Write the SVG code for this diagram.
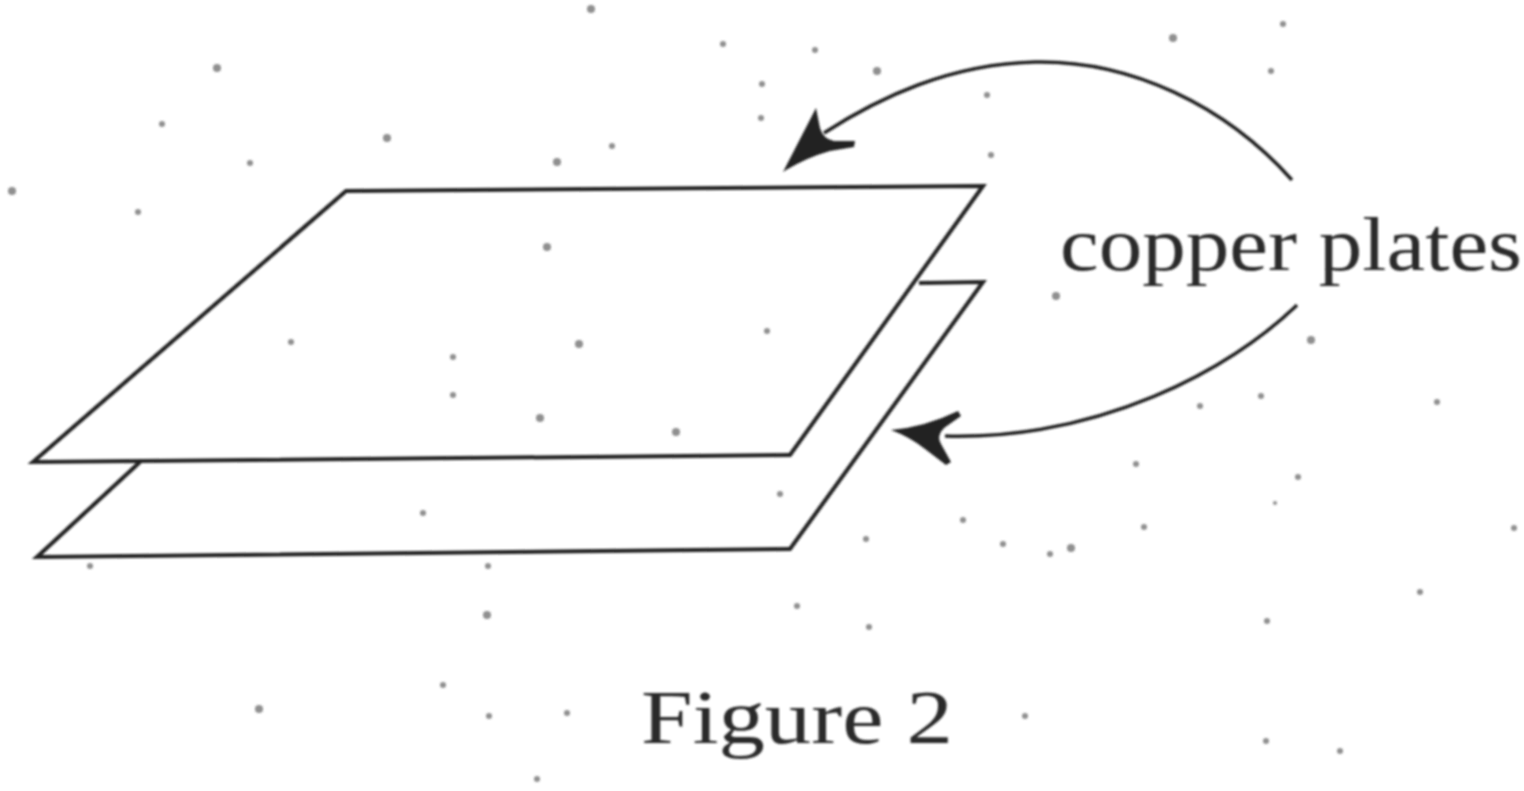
<svg xmlns="http://www.w3.org/2000/svg" width="1524" height="791" viewBox="0 0 1524 791">
<defs><filter id="b" x="-2%" y="-2%" width="104%" height="104%"><feGaussianBlur stdDeviation="0.9"/></filter></defs>
<style>
.l{fill:none;stroke:#222;stroke-width:4;stroke-linejoin:miter}
.c{fill:none;stroke:#222;stroke-width:3.5}
.t{font-family:"Liberation Serif",serif;fill:#2a2a2a;font-size:76px}
.h{fill:#222}
.d circle{fill:#444;opacity:.6}
</style>
<rect width="1524" height="791" fill="#fff"/>
<g filter="url(#b)">
<g class="d">
<circle cx="591" cy="9" r="4"/><circle cx="1173" cy="38" r="4"/><circle cx="217" cy="68" r="4"/><circle cx="723" cy="44" r="3"/><circle cx="815" cy="50" r="3"/><circle cx="877" cy="71" r="4"/><circle cx="1271" cy="71" r="3"/><circle cx="1283" cy="24" r="3"/><circle cx="987" cy="95" r="3"/><circle cx="762" cy="84" r="3"/><circle cx="761" cy="118" r="3"/><circle cx="162" cy="124" r="3"/><circle cx="387" cy="138" r="4"/><circle cx="250" cy="163" r="3"/><circle cx="557" cy="162" r="4"/><circle cx="612" cy="146" r="3"/><circle cx="991" cy="155" r="3"/><circle cx="12" cy="191" r="4"/><circle cx="138" cy="212" r="3"/><circle cx="547" cy="247" r="4"/><circle cx="1056" cy="296" r="4"/><circle cx="1311" cy="340" r="4"/><circle cx="291" cy="342" r="3"/><circle cx="767" cy="331" r="3"/><circle cx="579" cy="344" r="4"/><circle cx="453" cy="357" r="3"/><circle cx="453" cy="395" r="3"/><circle cx="1261" cy="396" r="3"/><circle cx="1200" cy="406" r="3"/><circle cx="1437" cy="402" r="3"/><circle cx="540" cy="418" r="4"/><circle cx="676" cy="432" r="4"/><circle cx="1136" cy="464" r="3"/><circle cx="1298" cy="477" r="3"/><circle cx="780" cy="494" r="3"/><circle cx="423" cy="513" r="3"/><circle cx="1275" cy="503" r="2"/><circle cx="963" cy="520" r="3"/><circle cx="1144" cy="527" r="3"/><circle cx="1514" cy="528" r="3"/><circle cx="866" cy="539" r="3"/><circle cx="1071" cy="548" r="4"/><circle cx="1050" cy="554" r="3"/><circle cx="1003" cy="544" r="3"/><circle cx="488" cy="566" r="3"/><circle cx="90" cy="566" r="3"/><circle cx="1420" cy="592" r="3"/><circle cx="797" cy="606" r="3"/><circle cx="487" cy="615" r="4"/><circle cx="869" cy="627" r="3"/><circle cx="1267" cy="621" r="3"/><circle cx="443" cy="685" r="3"/><circle cx="259" cy="709" r="4"/><circle cx="489" cy="716" r="3"/><circle cx="567" cy="713" r="3"/><circle cx="1025" cy="716" r="3"/><circle cx="1266" cy="741" r="3"/><circle cx="1340" cy="751" r="3"/><circle cx="537" cy="779" r="3"/>
</g>
<g id="lower-plate"><path class="l" d="M140 462L37 557L790 549L983 282L919 283"/></g>
<g id="upper-plate"><path class="l" d="M346 191L983 186L790 455L33 462Z"/></g>
<g id="connectors">
<path class="c" d="M1292 180C1225 105 1130 60 1035 62C950 64 880 97 824 133"/>
<path class="h" d="M783 172L816 108L820 128Q823 139 834 141L855 141L854 147L830 151Q805 158 783 172Z"/>
<path class="c" d="M1297 305C1230 370 1100 440 945 436"/>
<path class="h" d="M891 430Q925 427 958 411L961 416L944 428Q936 436 941 444L951 462L946 465L925 449Q910 437 891 430Z"/>
</g>
<g id="label-copper-plates"><text class="t" x="1060" y="270" textLength="462" lengthAdjust="spacingAndGlyphs">copper plates</text></g>
<g id="label-figure"><text class="t" x="641" y="743" textLength="312" lengthAdjust="spacingAndGlyphs">Figure 2</text></g>
</g>
</svg>
